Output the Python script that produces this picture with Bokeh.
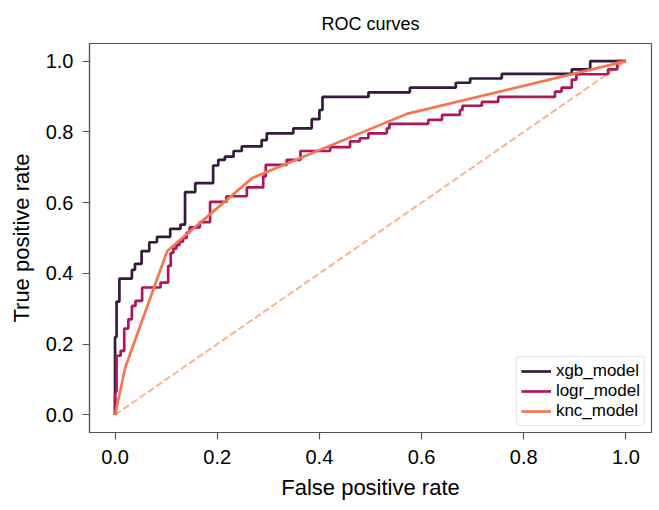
from bokeh.plotting import figure
from bokeh.models import Range1d, FixedTicker, Legend, LegendItem, NumeralTickFormatter
from bokeh.embed import file_html
from bokeh.resources import INLINE

# ---- data ----
xgb_fpr = [0, 0, 0.003, 0.003, 0.0085, 0.0085, 0.033, 0.033, 0.039, 0.039, 0.052, 0.052,
           0.067, 0.067, 0.082, 0.082, 0.108, 0.108, 0.128, 0.128, 0.137, 0.137, 0.157, 0.157,
           0.192, 0.192, 0.202, 0.202, 0.215, 0.215, 0.232, 0.232, 0.248, 0.248, 0.287, 0.287,
           0.297, 0.297, 0.349, 0.349, 0.385, 0.385, 0.400, 0.400, 0.406, 0.406, 0.496, 0.496,
           0.577, 0.577, 0.667, 0.667, 0.695, 0.695, 0.757, 0.757, 0.894, 0.894, 0.930, 0.930, 1.0]
xgb_tpr = [0, 0.22, 0.22, 0.32, 0.32, 0.385, 0.385, 0.41, 0.41, 0.427, 0.427, 0.463,
           0.463, 0.488, 0.488, 0.503, 0.503, 0.526, 0.526, 0.538, 0.538, 0.630, 0.630, 0.655,
           0.655, 0.705, 0.705, 0.721, 0.721, 0.730, 0.730, 0.746, 0.746, 0.759, 0.759, 0.777,
           0.777, 0.796, 0.796, 0.810, 0.810, 0.836, 0.836, 0.862, 0.862, 0.899, 0.899, 0.912,
           0.912, 0.925, 0.925, 0.939, 0.939, 0.951, 0.951, 0.964, 0.964, 0.977, 0.977, 1.0, 1.0]

logr_fpr = [0, 0, 0.003, 0.003, 0.011, 0.011, 0.018, 0.018, 0.026, 0.026, 0.033, 0.033,
            0.040, 0.040, 0.053, 0.053, 0.089, 0.089, 0.104, 0.104, 0.109, 0.109, 0.114, 0.114,
            0.120, 0.120, 0.126, 0.126, 0.133, 0.133, 0.140, 0.140, 0.146, 0.146, 0.166, 0.166,
            0.186, 0.186, 0.218, 0.218, 0.258, 0.258, 0.290, 0.290, 0.295, 0.295, 0.336, 0.336,
            0.363, 0.363, 0.421, 0.421, 0.460, 0.460, 0.479, 0.479, 0.496, 0.496, 0.532, 0.532,
            0.537, 0.537, 0.613, 0.613, 0.640, 0.640, 0.675, 0.675, 0.680, 0.680, 0.718, 0.718,
            0.750, 0.750, 0.861, 0.861, 0.874, 0.874, 0.894, 0.894, 0.903, 0.903, 0.965, 0.965,
            0.983, 0.983, 1.0]
logr_tpr = [0, 0.065, 0.065, 0.167, 0.167, 0.181, 0.181, 0.244, 0.244, 0.270, 0.270, 0.308,
            0.308, 0.322, 0.322, 0.360, 0.360, 0.374, 0.374, 0.421, 0.421, 0.458, 0.458, 0.470,
            0.470, 0.480, 0.480, 0.490, 0.490, 0.500, 0.500, 0.515, 0.515, 0.530, 0.530, 0.545,
            0.545, 0.602, 0.602, 0.618, 0.618, 0.643, 0.643, 0.674, 0.674, 0.707, 0.707, 0.721,
            0.721, 0.746, 0.746, 0.757, 0.757, 0.773, 0.773, 0.782, 0.782, 0.796, 0.796, 0.810,
            0.810, 0.823, 0.823, 0.834, 0.834, 0.848, 0.848, 0.862, 0.862, 0.874, 0.874, 0.885,
            0.885, 0.899, 0.899, 0.914, 0.914, 0.925, 0.925, 0.948, 0.948, 0.963, 0.963, 0.977,
            0.977, 1.0, 1.0]

knc_fpr = [0, 0.02, 0.102, 0.269, 0.571, 1.0]
knc_tpr = [0, 0.134, 0.463, 0.670, 0.851, 1.0]

diag = [0, 1]

labels = ["xgb_model", "logr_model", "knc_model"]
ticks = [0.0, 0.2, 0.4, 0.6, 0.8, 1.0]

FONT = "Liberation Sans"

p = figure(width=653, height=502, output_backend="svg", toolbar_location=None,
           x_range=Range1d(-0.05, 1.05), y_range=Range1d(-0.05, 1.05),
           min_border_left=89, min_border_right=2, min_border_top=43, min_border_bottom=69,
           title="ROC curves")

p.title.align = "center"
p.title.text_font = FONT
p.title.text_font_size = "18px"
p.title.text_font_style = "normal"
p.title.text_color = "#000000"
p.title.offset = 0
p.title.standoff = 20

p.xgrid.visible = False
p.ygrid.visible = False
p.outline_line_color = "#555555"
p.outline_line_width = 1.2

for ax in (p.xaxis[0], p.yaxis[0]):
    ax.ticker = FixedTicker(ticks=ticks)
    ax.formatter = NumeralTickFormatter(format="0.0")
    ax.major_label_text_font = FONT
    ax.major_label_text_font_size = "20px"
    ax.major_label_text_color = "#000000"
    ax.axis_label_text_font = FONT
    ax.axis_label_text_font_size = "22px"
    ax.axis_label_text_font_style = "normal"
    ax.axis_label_text_color = "#000000"
    ax.axis_line_color = "#555555"
    ax.axis_line_width = 1.2
    ax.major_tick_line_color = "#555555"
    ax.major_tick_line_width = 1.2
    ax.major_tick_out = 7
    ax.major_tick_in = 0
    ax.minor_tick_out = 0
    ax.minor_tick_in = 0

p.xaxis.major_label_standoff = 10
p.yaxis.major_label_standoff = 9
p.xaxis.axis_label = "False positive rate"
p.yaxis.axis_label = "True positive rate"
p.xaxis.axis_label_standoff = 8
p.yaxis.axis_label_standoff = 9

r_diag = p.line(diag, diag, line_color="#f6b48f", line_width=2, line_dash="7 3")
r_xgb = p.line(xgb_fpr, xgb_tpr, line_color="#35193e", line_width=2.7)
r_logr = p.line(logr_fpr, logr_tpr, line_color="#ad1759", line_width=2.7)
r_knc = p.line(knc_fpr, knc_tpr, line_color="#f37651", line_width=2.7)

legend = Legend(items=[LegendItem(label=labels[0], renderers=[r_xgb]),
                       LegendItem(label=labels[1], renderers=[r_logr]),
                       LegendItem(label=labels[2], renderers=[r_knc])],
                location="bottom_right")
legend.margin = 6
legend.padding = 4
legend.spacing = 0
legend.label_height = 20
legend.glyph_height = 20
legend.glyph_width = 30
legend.label_standoff = 5
legend.label_text_font = FONT
legend.label_text_font_size = "17px"
legend.label_text_color = "#000000"
legend.border_line_color = "#cccccc"
legend.border_line_width = 1
legend.border_radius = 3
legend.background_fill_alpha = 0.9
p.add_layout(legend)

open("out.html", "w").write(file_html(p, INLINE))
